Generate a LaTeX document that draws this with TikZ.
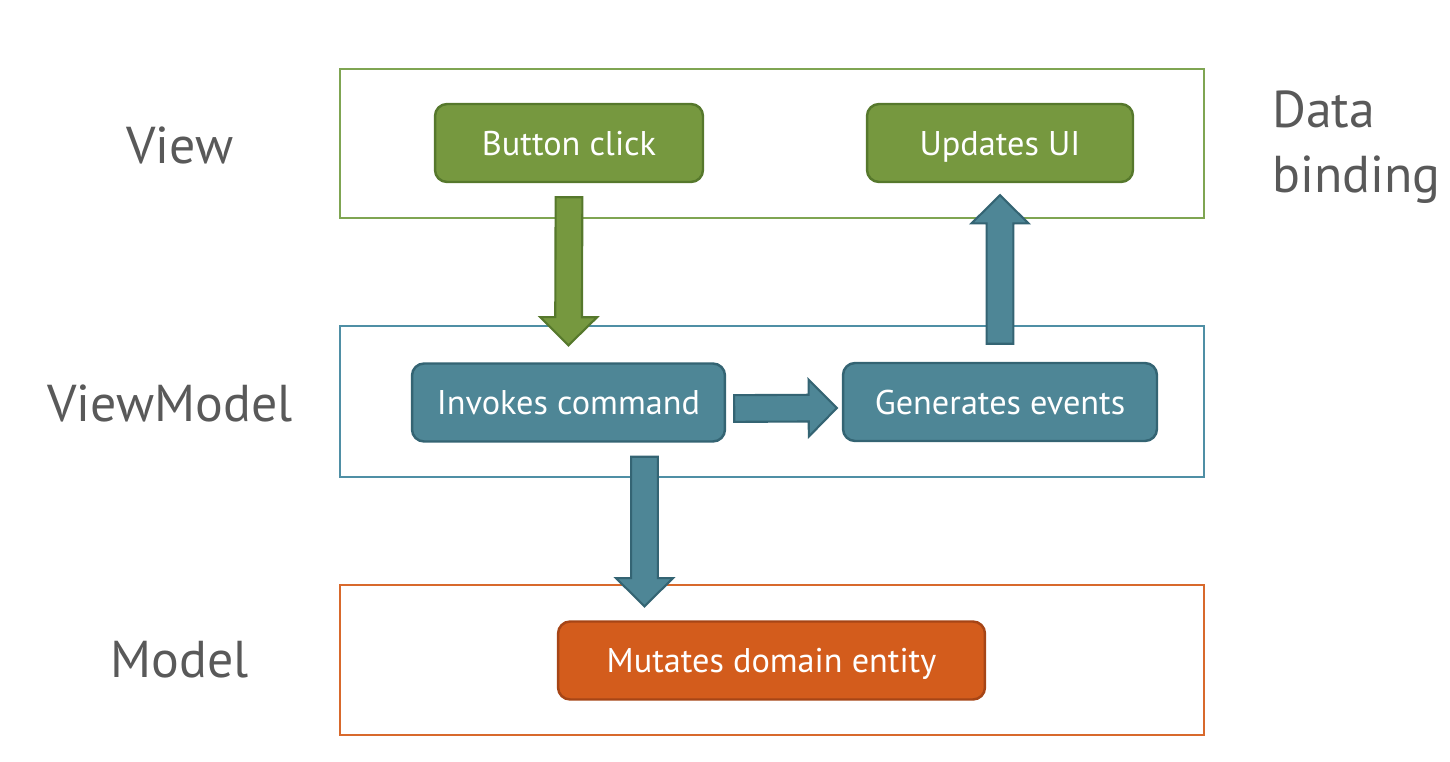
\documentclass[tikz,border=0pt]{standalone}
\usepackage{fontspec}
\setmainfont{PT Sans}
\usetikzlibrary{calc,positioning}
\definecolor{viewgreen}{HTML}{7FA552}
\definecolor{greenfill}{HTML}{76983F}
\definecolor{greenline}{HTML}{56782C}
\definecolor{vmblue}{HTML}{4F8FA5}
\definecolor{bluefill}{HTML}{4E8696}
\definecolor{blueline}{HTML}{346473}
\definecolor{modelorange}{HTML}{D8692C}
\definecolor{orangefill}{HTML}{D35C1C}
\definecolor{orangeline}{HTML}{A64516}
\definecolor{labelgray}{HTML}{595959}

% block arrow from #1 to #2, style #3
\newcommand{\blockarrow}[3]{%
  \draw[#3] let \p1=($(#2)-(#1)$), \n1={veclen(\x1,\y1)}, \n2={atan2(\y1,\x1)} in
    [shift={(#1)},rotate=\n2]
    (0pt,-7.6pt) -- (\n1-16pt,-7.6pt) -- (\n1-16pt,-16.2pt) -- (\n1,0pt)
    -- (\n1-16pt,16.2pt) -- (\n1-16pt,7.6pt) -- (0pt,7.6pt) -- cycle;
}

\begin{document}
\begin{tikzpicture}[
  x=0.02cm, y=-0.02cm,
  frame/.style={draw,line width=1.1pt,minimum width=17.28cm},
  box/.style={draw,line width=1.4pt,rounded corners=0.24cm,text=white,font=\fontsize{19.5}{23}\selectfont,
    text height=14pt,text depth=0pt,minimum height=1.56cm},
  layer/.style={text=labelgray,font=\fontsize{29.5}{37}\selectfont},
  greenarr/.style={fill=greenfill,draw=greenline,line width=1.2pt},
  bluearr/.style={fill=bluefill,draw=blueline,line width=1.2pt}
]
\useasboundingbox (0,0) rectangle (1450,761);

% layer frames
\node[frame,draw=viewgreen,minimum height=2.98cm] (viewfr) at (772,143.5) {};
\node[frame,draw=vmblue,minimum height=3.02cm] (vmfr) at (772,401.5) {};
\node[frame,draw=modelorange,minimum height=3cm] (modelfr) at (772,660) {};

% layer labels
\node[layer] (viewlbl) at (180,145) {View};
\node[layer] (vmlbl) at (170,403) {ViewModel};
\node[layer] (modellbl) at (180,660) {Model};
\node[layer,anchor=west,align=left] (bindlbl) at (1266,147) {Data\\binding};

% boxes
\node[box,fill=greenfill,draw=greenline,minimum width=5.36cm] (btn) at (569,143) {Button click};
\node[box,fill=greenfill,draw=greenline,minimum width=5.32cm] (upd) at (1000,143) {Updates UI};
\node[box,fill=bluefill,draw=blueline,minimum width=6.26cm] (inv) at (568.5,402.5) {Invokes command};
\node[box,fill=bluefill,draw=blueline,minimum width=6.28cm] (gen) at (1000,402) {Generates events};
\node[box,fill=orangefill,draw=orangeline,minimum width=8.54cm] (mut) at (771.5,660.5) {Mutates domain entity};

% arrows
\blockarrow{$(btn.south)+(0,14)$}{$(inv.north)+(0,-17)$}{greenarr}
\blockarrow{$(gen.north)+(0,-18)$}{$(upd.south)+(0,12)$}{bluearr}
\blockarrow{$(inv.east)+(8,6)$}{$(gen.west)+(-5,6)$}{bluearr}
\blockarrow{$(inv.south)+(76,14)$}{$(mut.north)+(-127,-14)$}{bluearr}
\end{tikzpicture}
\end{document}
